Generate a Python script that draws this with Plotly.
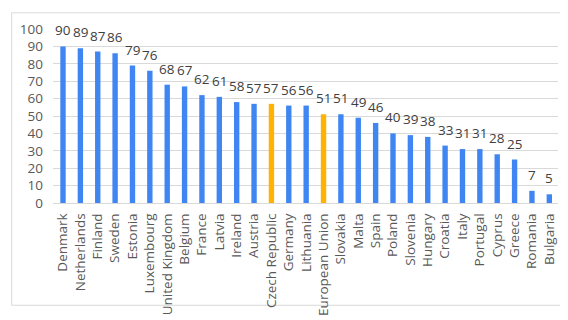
import plotly.graph_objects as go

countries = ["Denmark", "Netherlands", "Finland", "Sweden", "Estonia", "Luxembourg",
             "United Kingdom", "Belgium", "France", "Latvia", "Ireland", "Austria",
             "Czech Republic", "Germany", "Lithuania", "European Union", "Slovakia",
             "Malta", "Spain", "Poland", "Slovenia", "Hungary", "Croatia", "Italy",
             "Portugal", "Cyprus", "Greece", "Romania", "Bulgaria"]
values = [90, 89, 87, 86, 79, 76, 68, 67, 62, 61, 58, 57, 57, 56, 56, 51, 51,
          49, 46, 40, 39, 38, 33, 31, 31, 28, 25, 7, 5]
highlight = ["Czech Republic", "European Union"]

BLUE = "#3F86F2"
ORANGE = "#FFB300"
colors = [ORANGE if c in highlight else BLUE for c in countries]

W, H = 568, 320
ML, MR, MT, MB = 43, 18, 19, 113
FS = 13.5

fig = go.Figure(go.Bar(
    x=countries, y=values, marker=dict(color=colors, line=dict(width=0)),
    cliponaxis=False,
))

for c, v in zip(countries, values):
    fig.add_annotation(x=c, y=v, text=str(v), showarrow=False, yanchor="bottom",
                       yshift=5, font=dict(size=FS, color="#404040", family="Open Sans"))

pw, ph = W - ML - MR, H - MT - MB
fig.add_shape(type="rect", xref="paper", yref="paper",
              x0=-(ML - 1.5) / pw, x1=1 + (MR - 2.5) / pw,
              y0=-(MB - 2.5) / ph, y1=1 + (MT - 1.5) / ph,
              line=dict(color="#D9D9D9", width=1), layer="below")

fig.update_layout(
    width=W, height=H,
    margin=dict(l=ML, r=MR, t=MT, b=MB, pad=0),
    paper_bgcolor="white", plot_bgcolor="white",
    bargap=0.69, showlegend=False,
    font=dict(family="Open Sans", size=FS, color="#595959"),
    xaxis=dict(tickangle=-90, showgrid=False, showline=True, linecolor="#D9D9D9",
               ticks="", ticklabelstandoff=4, tickfont=dict(size=FS, color="#595959")),
    yaxis=dict(range=[0, 100], dtick=10, showgrid=True, gridcolor="#D9D9D9",
               zeroline=False, ticks="", ticklabelstandoff=9,
               tickfont=dict(size=FS, color="#595959")),
)

fig.write_html("out.html")
